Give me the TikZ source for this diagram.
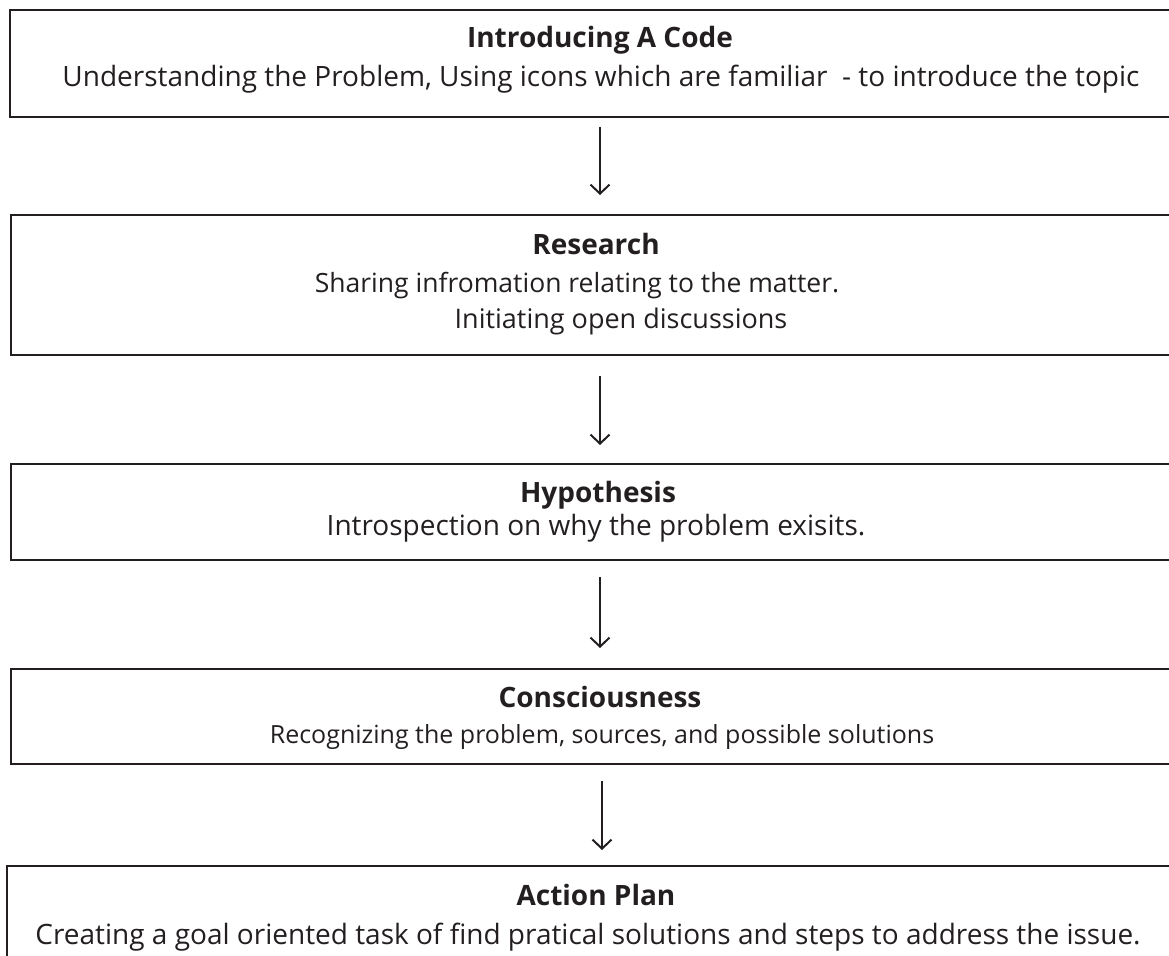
\documentclass[tikz,border=0pt]{standalone}
\usepackage{fontspec}
\setmainfont{Open Sans}
\usetikzlibrary{arrows.meta}
\definecolor{ink}{HTML}{231F20}
\tikzset{
  box/.style={draw=ink, line width=2pt, rectangle, anchor=north west, inner sep=0pt},
  ttl/.style={anchor=base, inner sep=0pt, font=\fontsize{28}{33}\selectfont\bfseries, text=ink},
  body/.style={anchor=base, inner sep=0pt, font=\fontsize{28}{33}\selectfont, text=ink},
  arr/.style={draw=ink, line width=2pt, -{Straight Barb[length=9pt,width=19pt,line width=2pt]}}
}
\begin{document}
\begin{tikzpicture}[x=1pt,y=-1pt]
\useasboundingbox (0,0) rectangle (1169,955);
\clip (0,0) rectangle (1169,955);
\node[box, minimum width=1200pt, minimum height=107pt] (b1) at (9,9) {};
\node[box, minimum width=1200pt, minimum height=140pt] (b2) at (10,214) {};
\node[box, minimum width=1200pt, minimum height=96pt] (b3) at (10,463) {};
\node[box, minimum width=1200pt, minimum height=95pt] (b4) at (10,668) {};
\node[box, minimum width=1200pt, minimum height=120pt] (b5) at (6,865) {};
\coordinate (ax) at (600,0);
\coordinate (ax4) at (602,0);
\node[ttl] (t1) at (600,48) {Introducing A Code};
\node[body] (s1) at (601,87) {Understanding the Problem, Using icons which are familiar \ - to introduce the topic};
\node[ttl] (t2) at (596,254) {Research};
\node[body, font=\fontsize{26.5}{31}\selectfont] (s2a) at (577,292) {Sharing infromation relating to the matter.};
\node[body, font=\fontsize{27}{32}\selectfont] (s2b) at (621,328) {Initiating open discussions};
\node[ttl] (t3) at (598,502) {Hypothesis};
\node[body] (s3) at (596,535) {Introspection on why the problem exisits.};
\node[ttl] (t4) at (600,707) {Consciousness};
\node[body, font=\fontsize{25}{30}\selectfont] (s4) at (602,743) {Recognizing the problem, sources, and possible solutions};
\node[ttl] (t5) at (596,905) {Action Plan};
\node[body] (s5) at (588,944) {Creating a goal oriented task of find pratical solutions and steps to address the issue.};
\draw[arr, shorten <=9pt, shorten >=19pt] (b1.south -| ax) -- (b2.north -| ax);
\draw[arr, shorten <=20pt, shorten >=18pt] (b2.south -| ax) -- (b3.north -| ax);
\draw[arr, shorten <=16pt, shorten >=20pt] (b3.south -| ax) -- (b4.north -| ax);
\draw[arr, shorten <=16pt, shorten >=15pt] (b4.south -| ax4) -- (b5.north -| ax4);
\end{tikzpicture}
\end{document}
